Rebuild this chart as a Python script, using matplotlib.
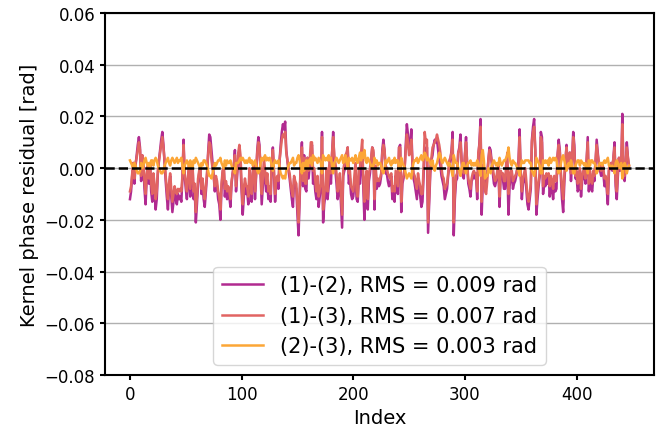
import numpy as np
import matplotlib
matplotlib.use("Agg")
import matplotlib.pyplot as plt

# Kernel phase residuals (units: mrad)
res_12 = [
    -12, -9, -3, 2, -6, 1, 5, 9, 12, 8, -5, 5, 1, -8, -14, -4,
    0, -6, 2, -9, -13, -3, -9, -16, -12, -2, 3, 7, 11, 14, 9, 2,
    -5, -11, -16, -8, -3, -11, -17, -13, -9, -12, -14, -10, -12, -11, -13, -4,
    11, -3, -8, -12, -5, 1, -11, -4, 2, -12, -8, -21, -14, -6, -2, 0,
    -10, -5, -12, -15, -9, -3, 6, 13, 12, 7, 2, -3, -9, -4, -7, -12,
    -14, -20, -8, -2, 1, -11, -6, -12, -9, -11, -15, -6, -2, 1, 7, -9,
    -3, 4, 6, 1, -9, -18, -11, -6, -10, -9, -14, -4, -8, -13, -2, 0,
    -12, -3, 7, 12, 9, -3, -14, -7, 0, -4, -9, -6, -12, -11, -13, 2,
    8, -3, -13, -6, -5, -8, 3, 9, 14, 17, 15, 18, 7, 3, -1, -4,
    -8, -12, -15, -4, -7, -8, -18, -26, -12, 2, 10, -7, 5, -8, -9, 4,
    -4, 1, 6, 9, -6, -3, -9, -12, -5, -15, -11, -8, 14, -21, -14, -10,
    -4, -12, -7, 1, -6, 5, 14, 3, -1, -6, -12, -9, -5, -14, -23, -3,
    -1, 0, 4, 8, -6, -4, -10, -12, -11, -6, -3, -12, -13, -4, -6, 3,
    5, -8, -20, -7, -3, -16, -5, -2, 3, 8, 6, -16, -1, -8, -5, -7,
    -6, -3, 7, 11, 7, -2, -2, -5, -7, -6, -3, -12, -9, -13, -3, -7,
    -10, 8, 9, -17, -6, -4, 0, 9, 17, 13, 7, 9, 15, 2, -4, -6,
    -9, -12, -4, -8, -11, -15, -13, -3, 8, 5, 8, -25, -13, -2, 3, 5,
    9, 11, 10, 11, 7, 3, 1, -3, -5, -7, -12, -10, -8, -3, 1, 3,
    7, 14, -26, -12, -5, -4, 6, 8, 13, 3, -3, -4, 5, 12, 1, -6,
    -8, -11, -5, -4, -2, -4, -3, -12, 4, 10, 19, -18, -6, -4, -5, -7,
    -2, 3, 8, 7, 2, -2, -6, -7, -5, -3, 0, -15, -3, -3, -4, -8,
    -8, -2, 1, -18, -7, -3, -2, -8, -6, -5, -3, 0, 3, 15, -3, -12,
    -6, -4, -3, -8, -14, -16, -12, -8, 11, 16, 19, 7, -18, -12, -7, -3,
    14, 12, -10, -5, -7, -4, -6, -3, -11, -5, -8, -12, -6, -9, -8, 5,
    11, 7, -4, -12, -17, -6, 2, 9, 1, 0, 6, -5, 3, 14, 9, -4,
    -3, -9, -8, -1, -11, -5, -3, -2, -6, 3, 12, -9, -2, -8, -9, -3,
    -5, 2, 11, 6, 1, -1, -3, 1, -2, -7, -5, -8, -14, -1, 0, 2,
    -1, 4, 10, -7, -12, -3, 4, -1, 0, 21, -2, -5, 1, 10, 4, 0,
]
res_13 = [
    -9, -7, -2, 2, -4, 2, 4, 7, 10, 7, -3, 5, 2, -5, -10, -2,
    1, -4, 2, -6, -10, -2, -6, -12, -9, -1, 3, 6, 9, 12, 8, 3,
    -3, -8, -12, -6, -2, -8, -13, -10, -7, -9, -10, -8, -9, -8, -9, -3,
    9, -2, -6, -9, -3, 1, -8, -3, 2, -9, -6, -17, -11, -4, -1, 0,
    -8, -4, -9, -12, -7, -2, 5, 10, 9, 3, 0, -3, -7, -3, -5, -9,
    -11, -16, -6, -1, 1, -8, -5, -9, -7, -9, -12, -5, -2, 1, 5, -7,
    -1, 6, 9, 5, -6, -14, -8, -4, -7, -7, -11, 0, -6, -10, -1, 2,
    -9, -2, 6, 10, 8, -1, -10, -4, 4, -1, -6, -2, -9, -7, -10, 3,
    7, -1, -10, -4, -3, -5, 3, 7, 11, 13, 12, 14, 6, 3, 0, -2,
    -6, -9, -11, -3, -5, -6, -14, -21, -9, 2, 8, -5, 4, -6, -6, 4,
    -1, 3, 10, 10, -1, 0, -5, -9, -3, -11, -8, -6, 12, -16, -10, -7,
    0, -9, -2, 4, -2, 6, 12, 5, 2, -2, -9, -7, -2, -10, -18, -1,
    2, 5, 6, 8, -2, -1, -7, -8, -9, -3, 2, -9, -11, 0, 0, 6,
    11, -4, -13, -4, -1, -12, -2, 0, 4, 8, 7, -12, 1, -5, -4, -5,
    -4, -2, 6, 9, 7, 1, 0, -2, -3, -4, -2, -9, -7, -9, -1, -4,
    -7, 8, 8, -13, -4, -3, 0, 7, 13, 10, 5, 6, 11, 2, -2, -3,
    -6, -8, -2, -5, -7, -10, -10, 1, 14, 10, 11, -21, -10, 0, 4, 8,
    9, 10, 11, 13, 11, 9, 6, 0, -3, -4, -8, -7, -6, -2, 3, 4,
    6, 11, -21, -9, -3, -2, 6, 7, 10, 3, -1, -2, 5, 10, 2, -4,
    -6, -8, -4, -2, -1, -2, -2, -9, 6, 9, 16, -13, 1, -1, -9, -10,
    -5, 3, 7, 5, 3, 0, -3, -5, -4, -1, 1, -11, -1, -2, -2, -5,
    -5, 2, 6, -10, -3, -1, -1, -5, -4, -3, -2, 0, 2, 12, -2, -9,
    -4, -2, 0, -5, -11, -13, -10, -6, 10, 14, 16, 7, -14, -9, -5, -2,
    12, 10, -7, -3, -4, -2, -3, -2, -7, -3, -5, -8, -3, -5, -5, 5,
    9, 6, -2, -8, -12, -3, 3, 8, 2, 2, 6, -2, 4, 12, 7, -3,
    -1, -6, -5, 0, -8, -3, -1, -1, -4, 3, 10, -6, -1, -5, -6, -1,
    -3, 3, 9, 5, 2, 1, -1, 2, 0, -4, -3, -5, -10, 0, 1, 2,
    0, 4, 8, -5, -9, -1, 4, 0, 2, 17, -1, -3, 2, 8, 4, 1,
]
res_23 = [
    3, 2, 1, 0, 2, 1, -1, -2, -2, -1, 2, 0, 1, 3, 4, 2,
    1, 2, 0, 3, 3, 1, 3, 4, 3, 1, 0, -1, -2, -2, -1, 1,
    2, 3, 4, 2, 1, 3, 4, 3, 2, 3, 4, 2, 3, 3, 4, 1,
    -2, 1, 2, 3, 2, 0, 3, 1, 0, 3, 2, 4, 3, 2, 1, 0,
    2, 1, 3, 3, 2, 1, -1, -3, -3, -4, -2, 0, 2, 1, 2, 3,
    3, 4, 2, 1, 0, 3, 1, 3, 2, 2, 3, 1, 0, 0, -2, 2,
    2, 2, 3, 4, 3, 4, 3, 2, 3, 2, 3, 4, 2, 3, 1, 2,
    3, 1, -1, -2, -1, 2, 4, 3, 4, 5, 3, 4, 3, 4, 3, 1,
    -1, 2, 3, 2, 2, 3, 0, -2, -3, -4, -3, -4, -1, 0, 1, 2,
    2, 3, 4, 1, 2, 2, 4, 5, 3, 0, -2, 2, -1, 2, 3, 0,
    3, 2, 4, 1, 5, 3, 4, 3, 2, 4, 3, 2, -2, 5, 4, 3,
    4, 3, 5, 3, 4, 1, -2, 2, 3, 4, 3, 2, 3, 4, 5, 2,
    3, 5, 2, 0, 4, 3, 3, 4, 2, 3, 5, 3, 2, 4, 6, 3,
    6, 4, 7, 3, 2, 4, 3, 2, 1, 0, 1, 4, 2, 3, 1, 2,
    2, 1, -1, -2, 0, 3, 2, 3, 4, 2, 1, 3, 2, 4, 2, 3,
    3, 0, -1, 4, 2, 1, 0, -2, -4, -3, -2, -3, -4, 0, 2, 3,
    3, 4, 2, 3, 4, 5, 3, 4, 6, 5, 3, 4, 3, 2, 1, 3,
    0, -1, 1, 2, 4, 6, 5, 3, 2, 3, 4, 3, 2, 1, 2, 1,
    -1, -3, 5, 3, 2, 2, 0, -1, -3, 0, 2, 2, 0, -2, 1, 2,
    2, 3, 1, 2, 1, 2, 1, 3, 2, -1, -3, 5, 7, 3, -4, -3,
    -3, 0, -1, -2, 1, 2, 3, 2, 1, 2, 1, 4, 2, 1, 2, 3,
    3, 4, 5, 8, 4, 2, 1, 3, 2, 2, 1, 0, -1, -3, 1, 3,
    2, 2, 3, 3, 3, 3, 2, 2, -1, -2, -3, 0, 4, 3, 2, 1,
    -2, -2, 3, 2, 3, 2, 3, 1, 4, 2, 3, 4, 3, 4, 3, 0,
    -2, -1, 2, 4, 5, 3, 1, -1, 1, 2, 0, 3, 1, -2, -2, 1,
    2, 3, 3, 1, 3, 2, 2, 1, 2, 0, -2, 3, 1, 3, 3, 2,
    2, 1, -2, -1, 1, 2, 2, 1, 2, 3, 2, 3, 4, 1, 1, 0,
    1, 0, -2, 2, 3, 2, 0, 1, 2, -4, 1, 2, 1, -2, 0, 1,
]

labels = [
    "(1)-(2), RMS = 0.009 rad",
    "(1)-(3), RMS = 0.007 rad",
    "(2)-(3), RMS = 0.003 rad",
]
colors = plt.cm.plasma([0.4, 0.6, 0.8])

plt.rcParams["axes.linewidth"] = 1.5
plt.rcParams["xtick.major.width"] = 1.5
plt.rcParams["ytick.major.width"] = 1.5

fig = plt.figure(figsize=(6.58, 4.31), dpi=100)
ax = fig.add_axes((105 / 658, 55 / 431, 549 / 658, 362 / 431))

for res, lab, col in zip([res_12, res_13, res_23], labels, colors):
    y = np.array(res) * 1e-3
    ax.plot(np.arange(len(y)), y, color=col, lw=1.8, label=lab)

ax.axhline(0, color="k", ls="--", lw=1.8, zorder=5)

ax.set_ylim(-0.08, 0.06)
ax.set_xticks([0, 100, 200, 300, 400])
ax.grid(axis="y", color="#b0b0b0", lw=1)
ax.set_axisbelow(True)
ax.tick_params(labelsize=12)
ax.set_xlabel("Index", fontsize=14)
ax.set_ylabel("Kernel phase residual [rad]", fontsize=14)
ax.legend(loc="lower center", fontsize=15)

fig.savefig("out.png", dpi=100)
